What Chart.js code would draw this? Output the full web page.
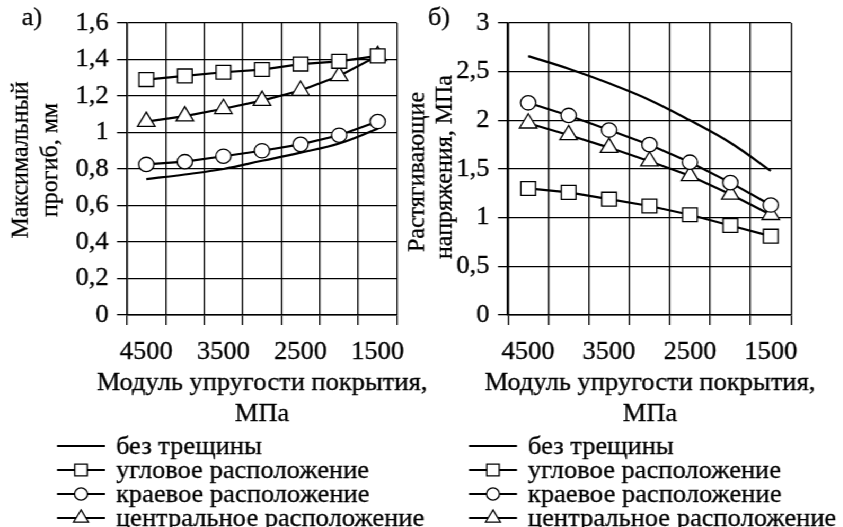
<!DOCTYPE html>
<html>
<head>
<meta charset="utf-8">
<script src="https://cdn.jsdelivr.net/npm/chart.js@4.4.1/dist/chart.umd.min.js"></script>
<style>
  html, body { margin: 0; padding: 0; background: #fff; overflow: hidden; }
  #wrap { position: absolute; left: 0; top: 0; height: 527px; transform-origin: 0 0; }
  canvas { position: absolute; top: 0; }
</style>
</head>
<body>
<div id="wrap"><canvas id="chartA"></canvas><canvas id="chartB"></canvas></div>
<script>
// categories (модуль упругости покрытия, МПа)
const categories = ['4500', '4000', '3500', '3000', '2500', '2000', '1500'];
const xTickLabels = ['4500', '', '3500', '', '2500', '', '1500'];
const seriesNames = ['без трещины', 'угловое расположение', 'краевое расположение', 'центральное расположение'];

// а) максимальный прогиб, мм
const deflNoCrack = [0.745, 0.77, 0.80, 0.845, 0.89, 0.94, 1.02];
const deflCorner  = [1.29, 1.31, 1.33, 1.345, 1.375, 1.39, 1.42];
const deflEdge    = [0.825, 0.84, 0.87, 0.90, 0.935, 0.985, 1.06];
const deflCenter  = [1.06, 1.09, 1.13, 1.175, 1.23, 1.31, 1.42];
const yTicksA = [0, 0.2, 0.4, 0.6, 0.8, 1, 1.2, 1.4, 1.6];

// б) растягивающие напряжения, МПа
const stressNoCrack = [2.66, 2.53, 2.38, 2.21, 2.00, 1.77, 1.48];
const stressCorner  = [1.30, 1.26, 1.19, 1.12, 1.03, 0.92, 0.81];
const stressEdge    = [2.18, 2.05, 1.90, 1.75, 1.57, 1.36, 1.13];
const stressCenter  = [1.97, 1.85, 1.72, 1.58, 1.43, 1.24, 1.03];
const yTicksB = [0, 0.5, 1, 1.5, 2, 2.5, 3];

// the source picture is slightly stretched horizontally
const SX = 1.06;
const FONT = '"Liberation Serif", "Times New Roman", serif';
const TEXT_STROKE = 0.3;
const W0 = Math.round(843 / SX);
document.getElementById('wrap').style.width = W0 + 'px';
document.getElementById('wrap').style.transform = 'scaleX(' + SX + ')';

const styles = [
  { pointStyle: 'circle', radius: 0, tension: 0.4 },
  { pointStyle: 'rect', radius: 9.8, tension: 0 },
  { pointStyle: 'circle', radius: 7.2, tension: 0 },
  { pointStyle: 'triangle', radius: 9.5, tension: 0 }
];

function fmt(v) {
  return String(+v.toFixed(1)).replace('.', ',');
}

function marker(ctx, style, r, x, y) {
  ctx.beginPath();
  if (style === 'rect') {
    const s = r * Math.SQRT1_2;
    ctx.rect(x - s, y - s, 2 * s, 2 * s);
  } else if (style === 'circle') {
    ctx.arc(x, y, r, 0, Math.PI * 2);
  } else {
    const a = Math.PI * 2 / 3;
    ctx.moveTo(x, y - r);
    ctx.lineTo(x + r * Math.sin(a), y - r * Math.cos(a));
    ctx.lineTo(x + r * Math.sin(2 * a), y - r * Math.cos(2 * a));
    ctx.closePath();
  }
  ctx.fillStyle = '#fff';
  ctx.fill();
  ctx.stroke();
}

function text(ctx, t, x, y) {
  ctx.fillText(t, x, y);
  ctx.strokeText(t, x, y);
}

// titles, panel letters and legend, positions given in page pixels
const extrasPlugin = {
  id: 'extras',
  afterDraw(chart, args, o) {
    const ctx = chart.ctx;
    const X = v => v / SX - o.off;
    ctx.save();
    ctx.fillStyle = '#000';
    ctx.strokeStyle = '#000';
    ctx.lineWidth = TEXT_STROKE;
    ctx.font = '25px ' + FONT;
    ctx.textAlign = 'center';
    ctx.textBaseline = 'middle';
    text(ctx, o.panel, X(o.panelX), o.panelY);
    o.xTitle.forEach((t, i) => text(ctx, t, X(o.xTitleX), o.xTitleY[i]));
    ctx.font = '24px ' + FONT;
    o.yTitle.forEach((t, i) => {
      ctx.save();
      ctx.translate(X(o.yTitleX[i]), o.yTitleY[i]);
      ctx.rotate(-Math.PI / 2);
      text(ctx, t, 0, 0);
      ctx.restore();
    });
    ctx.font = '25px ' + FONT;
    ctx.textAlign = 'left';
    const cx = X(o.legendX), hl = 24 / SX;
    chart.data.datasets.forEach((ds, i) => {
      const y = o.legendY[i];
      ctx.strokeStyle = '#000';
      ctx.lineWidth = 2.2;
      ctx.beginPath();
      ctx.moveTo(cx - hl, y);
      ctx.lineTo(cx + hl, y);
      ctx.stroke();
      if (styles[i].radius > 0) {
        ctx.lineWidth = 1.3;
        marker(ctx, styles[i].pointStyle, styles[i].radius * 0.85, cx, y);
      }
      ctx.fillStyle = '#000';
      ctx.lineWidth = TEXT_STROKE;
      text(ctx, ds.label, X(o.legendTextX), y + 1);
    });
    ctx.restore();
  }
};

function makeChart(id, cfg) {
  const canvas = document.getElementById(id);
  canvas.width = cfg.w;
  canvas.height = 527;
  canvas.style.left = cfg.off + 'px';
  canvas.style.width = cfg.w + 'px';
  canvas.style.height = '527px';

  const datasets = cfg.series.map((vals, i) => ({
    label: seriesNames[i],
    data: vals,
    borderColor: '#000',
    borderWidth: 2.2,
    tension: styles[i].tension,
    pointStyle: styles[i].pointStyle,
    pointRadius: styles[i].radius,
    pointBackgroundColor: '#fff',
    pointBorderColor: '#000',
    pointBorderWidth: 1.3,
    fill: false
  }));

  const tickFont = { family: FONT, size: 25 };
  return new Chart(canvas, {
    type: 'line',
    data: { labels: categories, datasets: datasets },
    options: {
      responsive: false,
      animation: false,
      devicePixelRatio: 1,
      layout: { padding: { left: 0, top: 23, right: cfg.padRight, bottom: 0 } },
      plugins: {
        legend: { display: false },
        tooltip: { enabled: false },
        extras: cfg.extras
      },
      scales: {
        x: {
          type: 'category',
          offset: true,
          grid: { offset: true, color: '#000', lineWidth: 1.3, tickLength: 10 },
          border: { color: '#000', width: 1.5 },
          ticks: {
            autoSkip: false, maxRotation: 0, color: '#000', font: tickFont, padding: 12,
            textStrokeColor: '#000', textStrokeWidth: TEXT_STROKE,
            callback: (v, i) => xTickLabels[i]
          },
          afterFit: s => { s.height = 212; }
        },
        y: {
          min: 0,
          max: cfg.yTicks[cfg.yTicks.length - 1],
          grid: { color: '#000', lineWidth: 1.3, tickLength: 10 / SX },
          border: { color: '#000', width: 1.5 },
          ticks: {
            color: '#000', font: tickFont, padding: 8,
            textStrokeColor: '#000', textStrokeWidth: TEXT_STROKE,
            callback: v => fmt(v)
          },
          afterBuildTicks: s => { s.ticks = cfg.yTicks.map(v => ({ value: v })); },
          afterFit: s => { s.width = cfg.yWidth; }
        }
      }
    },
    plugins: [extrasPlugin]
  });
}

// left panel: а)
const offA = 0, wA = Math.round(440 / SX);
makeChart('chartA', {
  off: offA, w: wA,
  yWidth: 127 / SX - offA,
  padRight: wA - (397 / SX - offA),
  yTicks: yTicksA,
  series: [deflNoCrack, deflCorner, deflEdge, deflCenter],
  extras: {
    off: offA,
    panel: 'а)', panelX: 32, panelY: 18,
    xTitle: ['Модуль упругости покрытия,', 'МПа'], xTitleX: 262, xTitleY: [383, 414],
    yTitle: ['Максимальный', 'прогиб, мм'], yTitleX: [21, 51], yTitleY: [160, 160],
    legendX: 81, legendTextX: 116, legendY: [446, 470, 494, 518]
  }
});

// right panel: б)
const offB = Math.round(400 / SX), wB = W0 - offB;
makeChart('chartB', {
  off: offB, w: wB,
  yWidth: 508 / SX - offB,
  padRight: wB - (791 / SX - offB),
  yTicks: yTicksB,
  series: [stressNoCrack, stressCorner, stressEdge, stressCenter],
  extras: {
    off: offB,
    panel: 'б)', panelX: 439, panelY: 18,
    xTitle: ['Модуль упругости покрытия,', 'МПа'], xTitleX: 650, xTitleY: [383, 414],
    yTitle: ['Растягивающие', 'напряжения, МПа'], yTitleX: [417, 445], yTitleY: [172, 167],
    legendX: 493, legendTextX: 528, legendY: [446, 470, 494, 518]
  }
});
</script>
</body>
</html>
